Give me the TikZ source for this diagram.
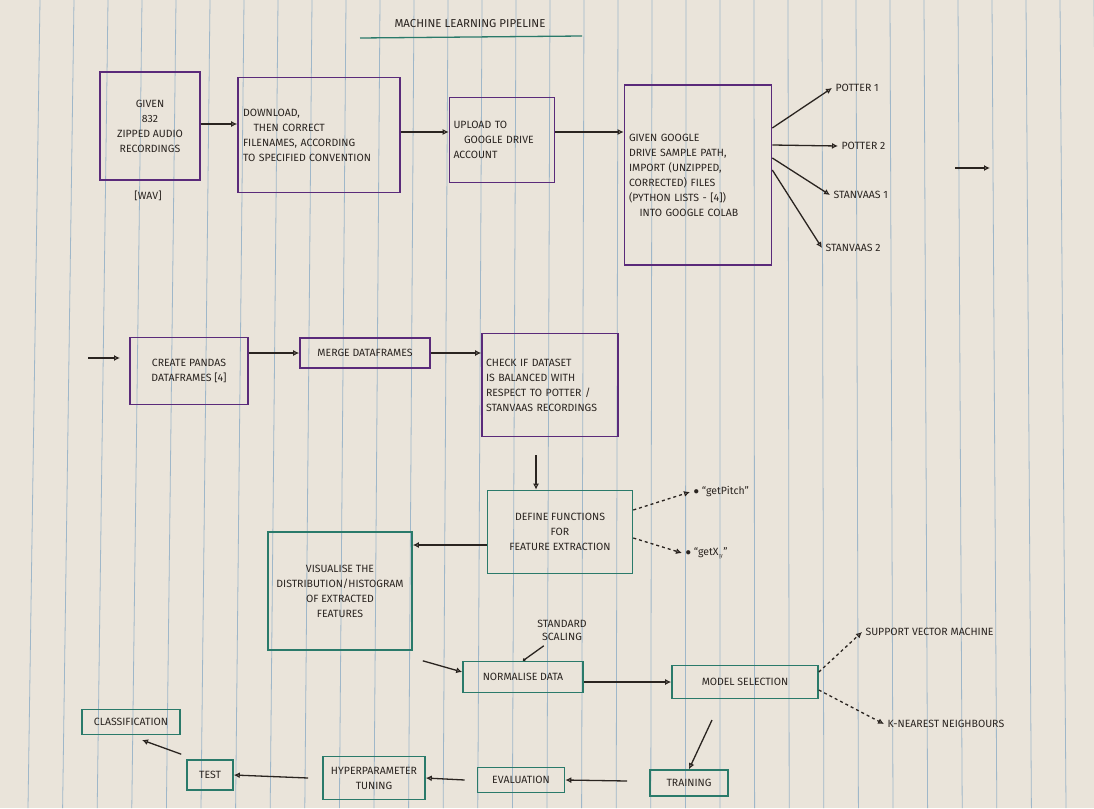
\documentclass[tikz,border=0pt]{standalone}
\usepackage{fontspec}
\setmainfont{Fira Sans}
\usetikzlibrary{arrows.meta}
\definecolor{paper}{HTML}{EAE4DA}
\definecolor{rule}{HTML}{9FB7C9}
\definecolor{purp}{HTML}{5A2A7A}
\definecolor{teal}{HTML}{2A7A6A}
\definecolor{ink}{HTML}{2A2420}
\tikzset{
  x=1pt,y=-1pt,
  box/.style={draw=#1,line width=1.6pt,align=center,font=\fontsize{10.5}{15}\selectfont,text=ink,inner sep=3pt},
  pbox/.style={box=purp},
  tbox/.style={box=teal},
  lab/.style={font=\fontsize{10.5}{13}\selectfont,text=ink,align=center},
  arr/.style={draw=ink,line width=1.3pt,-{Latex[open,length=6pt,width=6pt]}},
  darr/.style={arr,dashed},
}
\begin{document}
\begin{tikzpicture}
\fill[paper] (0,0) rectangle (1094,808);
\useasboundingbox (0,0) rectangle (1094,808);
\foreach \i in {0,...,31} {\draw[rule,line width=0.8pt] (40+34*\i,0) -- (28+34.6*\i,808);}
% title
\node[lab,font=\fontsize{11.5}{13}\selectfont] (title) at (470,24) {MACHINE LEARNING PIPELINE};
\draw[teal,line width=1.3pt] (360,38) -- (582,36);
% row 1
\node[pbox,minimum width=100,minimum height=108] (given) at (150,126) {GIVEN\\832\\ZIPPED AUDIO\\RECORDINGS};
\node[lab] (wav) at (148,196) {[WAV]};
\node[pbox,minimum width=162,minimum height=115,text width=152,align=left] (down) at (319,135) {DOWNLOAD,\\\quad THEN CORRECT\\FILENAMES, ACCORDING\\TO SPECIFIED CONVENTION};
\node[pbox,minimum width=105,minimum height=85,align=left,text width=97] (up) at (502,140) {UPLOAD TO\\\quad GOOGLE DRIVE\\ACCOUNT};
\node[pbox,minimum width=147,minimum height=180,text width=138,align=left] (colab) at (698,175) {GIVEN GOOGLE\\DRIVE SAMPLE PATH,\\IMPORT (UNZIPPED,\\CORRECTED) FILES\\(PYTHON LISTS - [4])\\\quad INTO GOOGLE COLAB};
\draw[arr] (given.east |- 0,124) -- (down.west |- 0,124);
\draw[arr] (down.east |- 0,132) -- (up.west |- 0,132);
\draw[arr] (up.east |- 0,132) -- (colab.west |- 0,132);
\node[lab,anchor=west] (p1) at (832,88) {POTTER 1};
\node[lab,anchor=west] (p2) at (838,146) {POTTER 2};
\node[lab,anchor=west] (s1) at (830,195) {STANVAAS 1};
\node[lab,anchor=west] (s2) at (822,248) {STANVAAS 2};
\draw[arr] (colab.east |- 0,128) -- (p1.west);
\draw[arr] (colab.east |- 0,145) -- (p2.west);
\draw[arr] (colab.east |- 0,158) -- (s1.west);
\draw[arr] (colab.east |- 0,170) -- (s2.west);
\coordinate (c1a) at (955,168); \coordinate (c1b) at (990,168);
\draw[arr] (c1a) -- (c1b);
% row 2
\coordinate (c2a) at (88,358); \coordinate (c2b) at (120,358);
\draw[arr] (c2a) -- (c2b);
\node[pbox,minimum width=118,minimum height=67] (pandas) at (189,371) {CREATE PANDAS\\DATAFRAMES [4]};
\node[pbox,minimum width=130,minimum height=30] (merge) at (365,353) {MERGE DATAFRAMES};
\node[pbox,minimum width=136,minimum height=103,text width=128,align=left] (check) at (550,385) {CHECK IF DATASET\\IS BALANCED WITH\\RESPECT TO POTTER /\\STANVAAS RECORDINGS};
\draw[arr] (pandas.east |- merge) -- (merge.west);
\draw[arr] (merge.east) -- (check.west |- merge);
% row 3
\node[tbox,minimum width=145,minimum height=83] (define) at (560,532) {DEFINE FUNCTIONS\\FOR\\FEATURE EXTRACTION};
\coordinate (dtop) at (536,455);
\draw[arr] (dtop) -- (dtop |- define.north);
\node[lab,anchor=west] (gp) at (690,492) {$\bullet$ ``getPitch''};
\node[lab,anchor=west] (gx) at (682,553) {$\bullet$ ``getX$_y$''};
\draw[darr] (define.east |- 0,510) -- (gp.west);
\draw[darr] (define.east |- 0,538) -- (gx.west);
\node[tbox,minimum width=144,minimum height=118] (vis) at (340,591) {VISUALISE THE\\DISTRIBUTION/HISTOGRAM\\OF EXTRACTED\\FEATURES};
\draw[arr] (define.west |- 0,545) -- (vis.east |- 0,545);
\node[lab] (std) at (562,630) {STANDARD\\SCALING};
\node[tbox,minimum width=120,minimum height=31] (norm) at (523,677) {NORMALISE DATA};
\draw[arr] (vis.south east)+(10,10) -- (norm.west |- 0,672);
\draw[arr,-{Circle[open,length=3pt]}] (std.south west)+(10,2) -- (norm.north);
\node[tbox,minimum width=146,minimum height=33] (model) at (745,682) {MODEL SELECTION};
\draw[arr] (norm.east |- 0,682) -- (model.west);
\node[lab,anchor=west] (svm) at (862,632) {SUPPORT VECTOR MACHINE};
\node[lab,anchor=west] (knn) at (884,724) {K-NEAREST NEIGHBOURS};
\draw[darr] (model.east |- 0,672) -- (svm.west);
\draw[darr] (model.east |- 0,690) -- (knn.west);
% row 4
\node[tbox,minimum width=78,minimum height=26] (train) at (689,783) {TRAINING};
\coordinate (tr0) at (712,720);
\draw[arr] (tr0) -- (train.north);
\node[tbox,minimum width=87,minimum height=25] (eval) at (521,780) {EVALUATION};
\draw[arr] (train.west)+(-22,-2) -- (eval.east);
\node[tbox,minimum width=102,minimum height=43] (hyp) at (374,778) {HYPERPARAMETER\\TUNING};
\draw[arr] (eval.west)+(-12,0) -- (hyp.east);
\node[tbox,minimum width=46,minimum height=30] (test) at (210,775) {TEST};
\draw[arr] (hyp.west)+(-14,0) -- (test.east |- 0,775);
\node[tbox,minimum width=98,minimum height=25] (cls) at (131,722) {CLASSIFICATION};
\draw[arr] (test.north west)+(-5,-5) -- (142,740);
\end{tikzpicture}
\end{document}
